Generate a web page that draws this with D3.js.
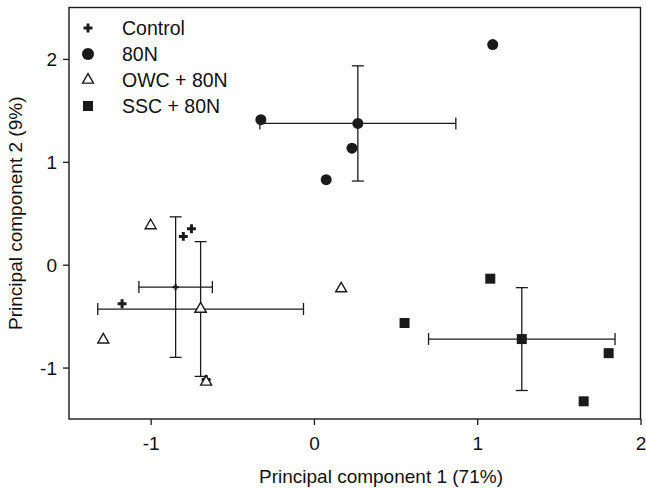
<!DOCTYPE html>
<meta charset="utf-8">
<script src="https://d3js.org/d3.v7.min.js"></script>
<style>
  body { margin: 0; background: #fff; }
  text { font-family: "Liberation Sans", Arial, sans-serif; fill: #111; }
</style>
<body>
<div id="pca"></div>
<script>
// group names
var groups = ["Control", "80N", "OWC + 80N", "SSC + 80N"];

// individual samples (PC1, PC2) per group
var controlPts = [[-0.75, 0.35], [-0.80, 0.275], [-1.175, -0.38], [-0.66, -1.115]];
var n80Pts     = [[1.095, 2.14], [-0.325, 1.41], [0.233, 1.133], [0.075, 0.826]];
var owcPts     = [[-1.0, 0.38], [-1.29, -0.73], [-0.66, -1.14], [0.167, -0.233]];
var sscPts     = [[1.08, -0.136], [0.555, -0.567], [1.805, -0.86], [1.652, -1.328]];

// group means and error half-widths [pc1 mean, pc2 mean, pc1 err, pc2 err]
var controlMean = [-0.847, -0.218, 0.225, 0.683];
var n80Mean     = [0.269, 1.373, 0.60, 0.56];
var owcMean     = [-0.694, -0.431, 0.63, 0.655];
var sscMean     = [1.273, -0.723, 0.571, 0.50];

var xTicks = [-1, 0, 1, 2];
var yTicks = [-1, 0, 1, 2];

var W = 646, H = 488;
var margin = {top: 7.5, right: 5.5, bottom: 69, left: 69};

var svg = d3.select("#pca").append("svg")
    .attr("width", W)
    .attr("height", H);

var x = d3.scaleLinear().domain([-1.5, 2]).range([margin.left, W - margin.right]);
var y = d3.scaleLinear().domain([-1.5, 2.5]).range([H - margin.bottom, margin.top]);

var ink = "#1a1a1a";

// axes
var xAxis = svg.append("g")
    .attr("transform", "translate(0," + (H - margin.bottom) + ")")
    .call(d3.axisBottom(x).tickValues(xTicks).tickFormat(function(d) { return String(d); })
      .tickSize(6).tickSizeOuter(0).tickPadding(12));
var yAxis = svg.append("g")
    .attr("transform", "translate(" + margin.left + ",0)")
    .call(d3.axisLeft(y).tickValues(yTicks).tickFormat(function(d) { return String(d); })
      .tickSize(6).tickSizeOuter(0).tickPadding(6));

[xAxis, yAxis].forEach(function(a) {
  a.select(".domain").remove();
  a.selectAll("line").attr("stroke", ink).attr("stroke-width", 1.3);
  a.selectAll("text").style("font-size", "19px").style("font-family", '"Liberation Sans", Arial, sans-serif').attr("fill", "#111");
});
yAxis.selectAll("text").attr("dy", "0.35em");

// frame
svg.append("rect")
    .attr("x", x(-1.5)).attr("y", y(2.5))
    .attr("width", x(2) - x(-1.5)).attr("height", y(-1.5) - y(2.5))
    .attr("fill", "none").attr("stroke", ink).attr("stroke-width", 1.4);

// axis titles
svg.append("text")
    .attr("x", 381).attr("y", 483)
    .attr("text-anchor", "middle")
    .style("font-size", "19px")
    .text("Principal component 1 (71%)");
svg.append("text")
    .attr("transform", "translate(22," + ((y(2.5) + y(-1.5)) / 2) + ") rotate(-90)")
    .attr("text-anchor", "middle")
    .style("font-size", "19px")
    .text("Principal component 2 (9%)");

// marker styles
var styles = [
  {type: d3.symbolCross,    size: 44,  fill: ink,    stroke: "none", meanSize: 22},
  {type: d3.symbolCircle,   size: 95,  fill: ink,    stroke: "none", meanSize: 95},
  {type: d3.symbolTriangle, size: 52,  fill: "#fff", stroke: ink,    meanSize: 56},
  {type: d3.symbolSquare,   size: 100, fill: ink,    stroke: "none", meanSize: 100}
];

var pts = [controlPts, n80Pts, owcPts, sscPts];
var means = [controlMean, n80Mean, owcMean, sscMean];

function marker(sel, st, size) {
  return sel.append("path")
    .attr("d", d3.symbol().type(st.type).size(size))
    .attr("fill", st.fill)
    .attr("stroke", st.stroke)
    .attr("stroke-width", 1.4);
}

// error bars
var cap = 6;
var bars = svg.append("g").attr("stroke", ink).attr("stroke-width", 1.3);
means.forEach(function(m) {
  var cx = x(m[0]), cy = y(m[1]);
  var x0 = x(m[0] - m[2]), x1 = x(m[0] + m[2]);
  var y0 = y(m[1] - m[3]), y1 = y(m[1] + m[3]);
  bars.append("line").attr("x1", x0).attr("x2", x1).attr("y1", cy).attr("y2", cy);
  bars.append("line").attr("x1", x0).attr("x2", x0).attr("y1", cy - cap).attr("y2", cy + cap);
  bars.append("line").attr("x1", x1).attr("x2", x1).attr("y1", cy - cap).attr("y2", cy + cap);
  bars.append("line").attr("x1", cx).attr("x2", cx).attr("y1", y0).attr("y2", y1);
  bars.append("line").attr("x1", cx - cap).attr("x2", cx + cap).attr("y1", y0).attr("y2", y0);
  bars.append("line").attr("x1", cx - cap).attr("x2", cx + cap).attr("y1", y1).attr("y2", y1);
});

// samples and means
pts.forEach(function(list, i) {
  list.forEach(function(p) {
    marker(svg.append("g").attr("transform", "translate(" + x(p[0]) + "," + y(p[1]) + ")"), styles[i], styles[i].size);
  });
  var m = means[i];
  marker(svg.append("g").attr("transform", "translate(" + x(m[0]) + "," + y(m[1]) + ")"), styles[i], styles[i].meanSize);
});

// legend
var legendSizes = [44, 115, 52, 100];
var legend = svg.append("g");
groups.forEach(function(g, i) {
  var row = legend.append("g").attr("transform", "translate(0," + (28 + i * 26) + ")");
  marker(row.append("g").attr("transform", "translate(88,0)"), styles[i], legendSizes[i]);
  row.append("text")
    .attr("x", 122).attr("y", 7)
    .style("font-size", "19.5px")
    .text(g);
});
</script>
</body>
